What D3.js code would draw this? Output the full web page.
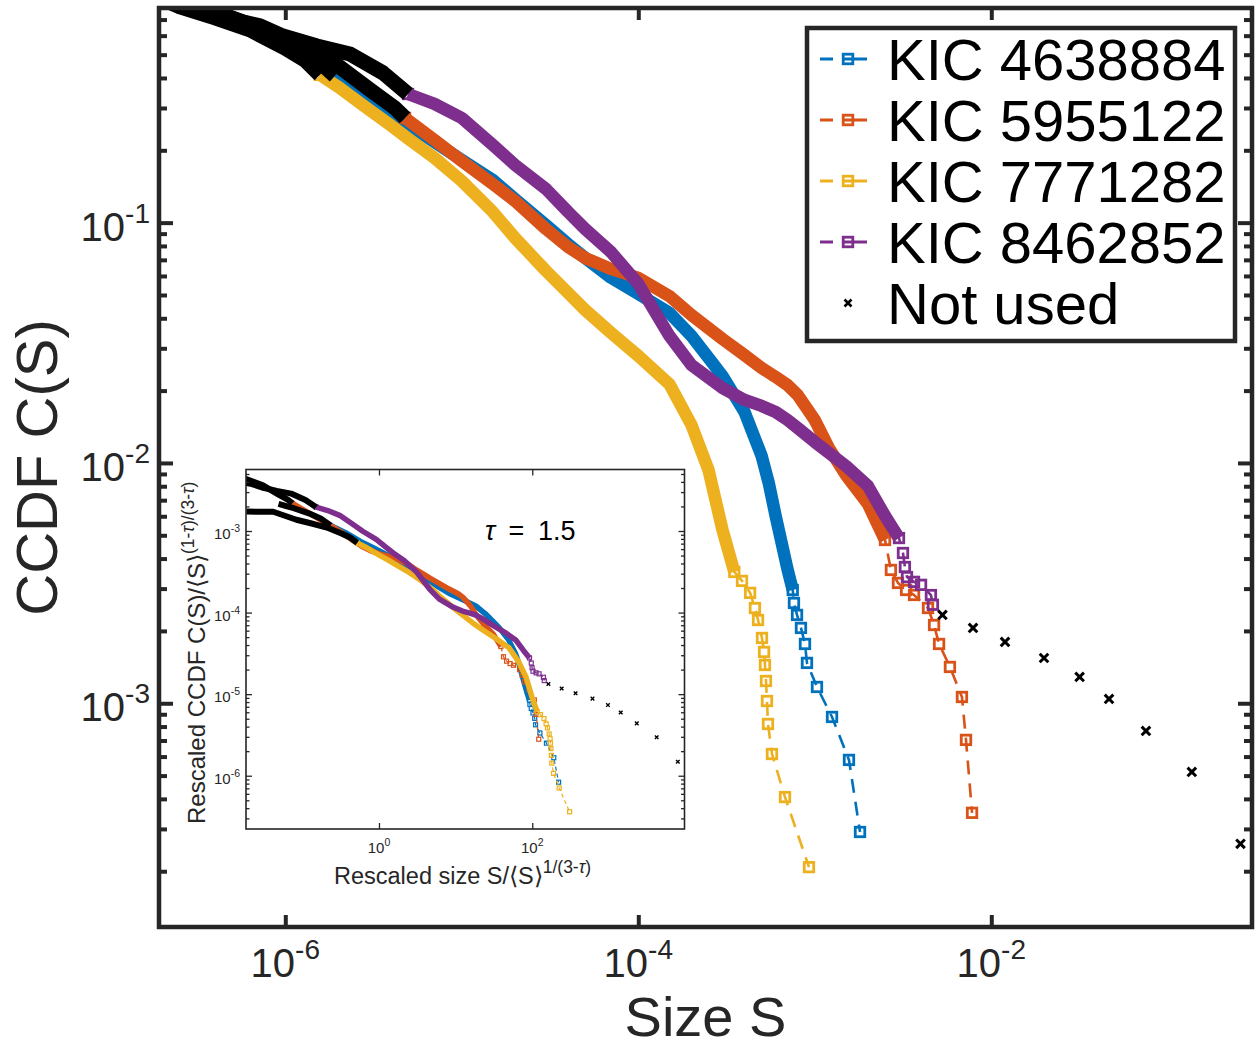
<!DOCTYPE html>
<html>
<head>
<meta charset="utf-8">
<script src="https://cdn.jsdelivr.net/npm/d3@7"></script>
<style>
  html, body { margin: 0; padding: 0; background: #fff; }
  svg { display: block; font-family: "Liberation Sans", Arial, Helvetica, sans-serif; }
</style>
</head>
<body>
<svg id="chart" width="1255" height="1048"></svg>
<script>
// ---------------------------------------------------------------------------
// Flare-size CCDFs of four Kepler stars
// ---------------------------------------------------------------------------
const starNames  = ['KIC 4638884', 'KIC 5955122', 'KIC 7771282', 'KIC 8462852'];
const starColors = ['#0072BD', '#D95319', '#EDB120', '#7E2F8E'];
// mean event size <S> of each star, used for the rescaled collapse
const meanSize = [2.34e-8, 5.13e-7, 5.25e-9, 1.86e-7];
const tau = 1.5;

// KIC 4638884 — fitted range (dense body, then the individual largest events)
const s4638884Body = [1.91e-6, 3e-6, 5e-6, 7e-6, 1e-5, 1.5e-5, 2e-5, 3e-5, 4e-5, 5e-5, 7e-5, 1e-4, 1.5e-4, 2e-4, 2.5e-4, 3e-4, 4e-4, 5e-4, 5.5e-4, 6e-4, 7e-4, 7.5e-4];
const c4638884Body = [0.408, 0.333, 0.2524, 0.2166, 0.1823, 0.1505, 0.1254, 0.0977, 0.0815, 0.0713, 0.0590, 0.0505, 0.0421, 0.0338, 0.02735, 0.0230, 0.0163, 0.01069, 0.00818, 0.00602, 0.00362, 0.00296];
const s4638884Tail = [7.62e-4, 7.93e-4, 8.35e-4, 8.80e-4, 9.03e-4, 1.029e-3, 1.252e-3, 1.562e-3, 1.804e-3];
const c4638884Tail = [2.615e-3, 2.331e-3, 2.058e-3, 1.765e-3, 1.472e-3, 1.169e-3, 8.77e-4, 5.81e-4, 2.913e-4];
// below the fit cutoff (not used)
const s4638884Low = [4.0e-7, 6.31e-7, 9.96e-7, 1.417e-6, 1.91e-6];
const c4638884Low = [0.750, 0.665, 0.576, 0.499, 0.408];

// KIC 5955122
const s5955122Body = [4.77e-6, 7e-6, 1e-5, 1.5e-5, 2e-5, 3e-5, 4e-5, 5e-5, 7e-5, 1e-4, 1.5e-4, 2e-4, 3e-4, 4e-4, 5e-4, 6e-4, 7e-4, 8e-4, 1e-3, 1.2e-3, 1.5e-3, 2e-3, 2.5e-3];
const c5955122Body = [0.2727, 0.2208, 0.1806, 0.1449, 0.1231, 0.0941, 0.0792, 0.0713, 0.0642, 0.0589, 0.0495, 0.0413, 0.0328, 0.0281, 0.02485, 0.0228, 0.0211, 0.01919, 0.0151, 0.01155, 0.00891, 0.00675, 0.00478];
const s5955122Tail = [2.70e-3, 2.96e-3, 3.29e-3, 3.65e-3, 4.38e-3, 4.74e-3, 5.06e-3, 5.83e-3, 6.82e-3, 7.19e-3, 7.78e-3];
const c5955122Tail = [3.587e-3, 3.168e-3, 2.961e-3, 2.823e-3, 2.492e-3, 2.117e-3, 1.765e-3, 1.416e-3, 1.062e-3, 7.04e-4, 3.50e-4];
const s5955122Low = [2.88e-7, 3.75e-7, 5.54e-7, 8.19e-7, 1.211e-6, 1.963e-6, 3.019e-6, 4.18e-6, 4.77e-6];
const c5955122Low = [0.845, 0.7675, 0.691, 0.616, 0.5385, 0.453, 0.357, 0.300, 0.2727];

// KIC 7771282
const s7771282Body = [1.57e-6, 2e-6, 3e-6, 4e-6, 5e-6, 7e-6, 1e-5, 1.5e-5, 2e-5, 3e-5, 4e-5, 5e-5, 7e-5, 1e-4, 1.5e-4, 2e-4, 2.5e-4, 3e-4, 3.5e-4];
const c7771282Body = [0.412, 0.367, 0.294, 0.2526, 0.223, 0.186, 0.149, 0.1108, 0.0864, 0.0630, 0.0510, 0.0433, 0.0348, 0.0279, 0.0213, 0.0144, 0.00935, 0.00526, 0.00352];
const s7771282Tail = [3.87e-4, 4.30e-4, 4.58e-4, 4.77e-4, 5.02e-4, 5.16e-4, 5.22e-4, 5.29e-4, 5.36e-4, 5.43e-4, 5.72e-4, 6.78e-4, 9.27e-4];
const c7771282Tail = [3.23e-3, 2.88e-3, 2.49e-3, 2.22e-3, 1.87e-3, 1.635e-3, 1.443e-3, 1.238e-3, 1.022e-3, 8.20e-4, 6.15e-4, 4.07e-4, 2.08e-4];
const s7771282Low = [5.62e-8, 1.26e-7, 2.53e-7, 4.0e-7, 6.31e-7, 9.96e-7, 1.29e-6, 1.57e-6];
const c7771282Low = [0.995, 0.990, 0.790, 0.711, 0.634, 0.533, 0.475, 0.412];

// KIC 8462852
const s8462852Body = [4.96e-6, 7e-6, 1e-5, 1.5e-5, 2e-5, 3e-5, 4e-5, 5e-5, 7e-5, 1e-4, 1.5e-4, 2e-4, 3e-4, 4e-4, 5e-4, 6e-4, 7e-4, 8e-4, 1e-3, 1.5e-3, 2e-3, 2.5e-3, 3e-3];
const c8462852Body = [0.343, 0.312, 0.2727, 0.2105, 0.1739, 0.1381, 0.1108, 0.0941, 0.0755, 0.0556, 0.0338, 0.02557, 0.0205, 0.01829, 0.01727, 0.0163, 0.0151, 0.01398, 0.01223, 0.00972, 0.00802, 0.00602, 0.00487];
const s8462852Tail = [3.16e-3, 3.24e-3, 3.33e-3, 3.65e-3, 4.00e-3, 4.55e-3, 4.67e-3];
const c8462852Tail = [4.22e-3, 3.69e-3, 3.35e-3, 3.20e-3, 3.11e-3, 2.82e-3, 2.57e-3];
const s8462852Low = [3.29e-7, 4.10e-7, 7.19e-7, 9.70e-7, 1.512e-6, 2.325e-6, 3.577e-6, 4.96e-6];
const c8462852Low = [0.813, 0.725, 0.659, 0.598, 0.5435, 0.5035, 0.420, 0.343];
// largest events above the fit range (not used)
const s8462852High = [5.29e-3, 7.88e-3, 0.01196, 0.01989, 0.03165, 0.04645, 0.0752, 0.1368, 0.2582];
const c8462852High = [2.331e-3, 2.058e-3, 1.799e-3, 1.543e-3, 1.287e-3, 1.042e-3, 7.67e-4, 5.18e-4, 2.60e-4];

// tick labels
const mainXTicks  = [1e-6, 1e-4, 1e-2];
const mainYTicks  = [1e-3, 1e-2, 1e-1];
const insetXTicks = [1, 100];
const insetYTicks = [1e-6, 1e-5, 1e-4, 1e-3];

// ---------------------------------------------------------------------------
const zip = (s, c) => s.map((v, i) => ({ s: v, c: c[i] }));
const stars = [
  { body: zip(s4638884Body, c4638884Body), tail: zip(s4638884Tail, c4638884Tail), low: zip(s4638884Low, c4638884Low), high: [] },
  { body: zip(s5955122Body, c5955122Body), tail: zip(s5955122Tail, c5955122Tail), low: zip(s5955122Low, c5955122Low), high: [] },
  { body: zip(s7771282Body, c7771282Body), tail: zip(s7771282Tail, c7771282Tail), low: zip(s7771282Low, c7771282Low), high: [] },
  { body: zip(s8462852Body, c8462852Body), tail: zip(s8462852Tail, c8462852Tail), low: zip(s8462852Low, c8462852Low), high: zip(s8462852High, c8462852High) }
];
stars.forEach((d, i) => { d.name = starNames[i]; d.color = starColors[i]; d.mean = meanSize[i]; });

const ink = '#262626';
const svg = d3.select('#chart');
svg.append('rect').attr('width', 1255).attr('height', 1048).attr('fill', '#fff');

// ---------------------------------------------------------------------------
// helpers
function ticks(g, scale, orient, values, size, pos, width) {
  const gen = { bottom: d3.axisBottom, top: d3.axisTop, left: d3.axisLeft, right: d3.axisRight }[orient];
  const axis = gen(scale).tickValues(values).tickSize(-size).tickSizeOuter(0).tickFormat(() => '');
  const horiz = orient === 'bottom' || orient === 'top';
  const a = g.append('g')
    .attr('transform', horiz ? `translate(0,${pos})` : `translate(${pos},0)`)
    .call(axis);
  a.select('.domain').remove();
  a.selectAll('text').remove();
  a.selectAll('line').attr('stroke', ink).attr('stroke-width', width);
}

function powLabel(g, x, y, v, size, anchor) {
  const e = Math.round(Math.log10(v));
  const t = g.append('text').attr('x', x).attr('y', y)
    .attr('text-anchor', anchor).attr('font-size', size).attr('fill', ink);
  t.append('tspan').text('10');
  t.append('tspan').attr('dy', -0.45 * size).attr('font-size', 0.7 * size).text(String(e));
}

function squareMarks(g, pts, xs, ys, side, color, sw) {
  g.selectAll(null).data(pts).enter().append('rect')
    .attr('x', d => xs(d.s) - side / 2).attr('y', d => ys(d.c) - side / 2)
    .attr('width', side).attr('height', side)
    .attr('fill', 'none').attr('stroke', color).attr('stroke-width', sw);
}

function crossMarks(g, pts, xs, ys, half, sw) {
  g.selectAll(null).data(pts).enter().append('path')
    .attr('d', d => {
      const cx = xs(d.s), cy = ys(d.c);
      return `M${cx - half},${cy - half}L${cx + half},${cy + half}M${cx - half},${cy + half}L${cx + half},${cy - half}`;
    })
    .attr('stroke', '#000').attr('stroke-width', sw).attr('fill', 'none');
}

// draw all series into a panel with the given scales and mark sizes
function drawSeries(g, xs, ys, st, map) {
  const line = d3.line().x(d => xs(d.s)).y(d => ys(d.c));
  stars.forEach(d => {
    const body = d.body.map(map(d)), tail = d.tail.map(map(d));
    // densely packed events, drawn as a solid trace
    g.append('path').attr('d', line(body)).attr('fill', 'none')
      .attr('stroke', d.color).attr('stroke-width', st.band)
      .attr('stroke-linejoin', 'round').attr('stroke-linecap', 'butt');
    g.append('path').attr('d', line(body.concat(tail))).attr('fill', 'none')
      .attr('stroke', d.color).attr('stroke-width', st.lw)
      .attr('stroke-dasharray', st.dash);
    squareMarks(g, [body[0], body[body.length - 1]].concat(tail), xs, ys, st.sq, d.color, st.sqw);
  });
  stars.forEach(d => {
    const low = d.low.map(map(d));
    g.append('path').attr('d', line(low)).attr('fill', 'none')
      .attr('stroke', '#000').attr('stroke-width', st.black)
      .attr('stroke-linejoin', 'round').attr('stroke-linecap', 'butt');
    crossMarks(g, d.high.map(map(d)), xs, ys, st.xh, st.xw);
  });
}

// ---------------------------------------------------------------------------
// main panel
const M = { l: 159, r: 1252, t: 8, b: 927 };
const x = d3.scaleLog().domain([1.925e-7, 0.3]).range([M.l, M.r]);
const y = d3.scaleLog().domain([1.172e-4, 0.782]).range([M.b, M.t]);

svg.append('clipPath').attr('id', 'clipMain').append('rect')
  .attr('x', M.l).attr('y', M.t).attr('width', M.r - M.l).attr('height', M.b - M.t);

const gMain = svg.append('g').attr('clip-path', 'url(#clipMain)');
drawSeries(gMain, x, y,
  { band: 12.5, lw: 2.6, dash: '14,9', sq: 9.5, sqw: 2.8, black: 15, xh: 4.3, xw: 3 },
  () => p => p);

const yMinor = y.ticks().filter(v => Math.abs(Math.log10(v) - Math.round(Math.log10(v))) > 1e-6);
const gAx = svg.append('g');
ticks(gAx, x, 'bottom', mainXTicks, 12, M.b, 4);
ticks(gAx, x, 'top', mainXTicks, 12, M.t, 4);
ticks(gAx, y, 'left', mainYTicks, 14, M.l, 4);
ticks(gAx, y, 'left', yMinor, 8, M.l, 4);
ticks(gAx, y, 'right', mainYTicks, 14, M.r, 4);
ticks(gAx, y, 'right', yMinor, 8, M.r, 4);
gAx.append('rect').attr('x', M.l).attr('y', M.t).attr('width', M.r - M.l).attr('height', M.b - M.t)
  .attr('fill', 'none').attr('stroke', ink).attr('stroke-width', 4.5);

mainXTicks.forEach(v => powLabel(gAx, x(v), 977, v, 40, 'middle'));
mainYTicks.forEach(v => powLabel(gAx, 150, y(v) + 18, v, 40, 'end'));

gAx.append('text').attr('x', (M.l + M.r) / 2).attr('y', 1036).attr('text-anchor', 'middle')
  .attr('font-size', 56).attr('fill', ink).text('Size S');
gAx.append('text').attr('transform', `translate(57,${(M.t + M.b) / 2}) rotate(-90)`)
  .attr('text-anchor', 'middle').attr('font-size', 58).attr('fill', ink).text('CCDF C(S)');

// ---------------------------------------------------------------------------
// legend
const L = { x: 807, y: 28, w: 428, h: 313 };
const gLeg = svg.append('g');
gLeg.append('rect').attr('x', L.x).attr('y', L.y).attr('width', L.w).attr('height', L.h)
  .attr('fill', '#fff').attr('stroke', ink).attr('stroke-width', 4.5);
const rowY = i => 59 + i * 61;
stars.forEach((d, i) => {
  const cy = rowY(i);
  gLeg.append('line').attr('x1', 820).attr('x2', 867).attr('y1', cy).attr('y2', cy)
    .attr('stroke', d.color).attr('stroke-width', 2.8).attr('stroke-dasharray', '13,9,25');
  gLeg.append('rect').attr('x', 848 - 4.8).attr('y', cy - 4.8).attr('width', 9.6).attr('height', 9.6)
    .attr('fill', 'none').attr('stroke', d.color).attr('stroke-width', 2.8);
  gLeg.append('text').attr('x', 887).attr('y', cy + 21).attr('font-size', 58).attr('fill', '#000').text(d.name);
});
crossMarks(gLeg, [{ s: 848, c: rowY(4) }], v => v, v => v, 3.5, 2.6);
gLeg.append('text').attr('x', 887).attr('y', rowY(4) + 21).attr('font-size', 58).attr('fill', '#000').text('Not used');

// ---------------------------------------------------------------------------
// inset: rescaled collapse  S/<S>^{1/(3-tau)},  C(S)/<S>^{(1-tau)/(3-tau)}
const I = { l: 246, r: 684.5, t: 469.5, b: 829 };
const xi = d3.scaleLog().domain([0.01841, 9683]).range([I.l, I.r]);
const yi = d3.scaleLog().domain([2.223e-7, 5.675e-3]).range([I.b, I.t]);
const rescale = d => {
  const sf = Math.pow(d.mean, 1 / (3 - tau));
  const cf = Math.pow(d.mean, (1 - tau) / (3 - tau));
  return p => ({ s: p.s / sf, c: p.c / cf });
};

svg.append('rect').attr('x', I.l).attr('y', I.t).attr('width', I.r - I.l).attr('height', I.b - I.t)
  .attr('fill', '#fff');
svg.append('clipPath').attr('id', 'clipInset').append('rect')
  .attr('x', I.l).attr('y', I.t).attr('width', I.r - I.l).attr('height', I.b - I.t);
const gIn = svg.append('g').attr('clip-path', 'url(#clipInset)');
drawSeries(gIn, xi, yi,
  { band: 5.5, lw: 1.2, dash: '4,3', sq: 4, sqw: 1.2, black: 6, xh: 1.8, xw: 1.4 },
  rescale);

const yiMinor = yi.ticks().filter(v => Math.abs(Math.log10(v) - Math.round(Math.log10(v))) > 1e-6);
const gIa = svg.append('g');
ticks(gIa, xi, 'bottom', insetXTicks, 6, I.b, 1.3);
ticks(gIa, xi, 'top', insetXTicks, 6, I.t, 1.3);
ticks(gIa, yi, 'left', insetYTicks, 6, I.l, 1.3);
ticks(gIa, yi, 'left', yiMinor, 3.5, I.l, 1.3);
ticks(gIa, yi, 'right', insetYTicks, 6, I.r, 1.3);
ticks(gIa, yi, 'right', yiMinor, 3.5, I.r, 1.3);
gIa.append('rect').attr('x', I.l).attr('y', I.t).attr('width', I.r - I.l).attr('height', I.b - I.t)
  .attr('fill', 'none').attr('stroke', ink).attr('stroke-width', 1.6);

insetXTicks.forEach(v => powLabel(gIa, xi(v), 853, v, 15, 'middle'));
insetYTicks.forEach(v => powLabel(gIa, 240, yi(v) + 8, v, 15, 'end'));

// inset axis titles
const supSize = 17.5;
const xt = gIa.append('text').attr('x', 334).attr('y', 884).attr('font-size', 23.5).attr('fill', ink);
xt.append('tspan').text('Rescaled size S/\u27E8S\u27E9');
xt.append('tspan').attr('dy', -11).attr('font-size', supSize).text('1/(3-');
xt.append('tspan').attr('font-size', supSize).attr('font-style', 'italic').text('\u03C4');
xt.append('tspan').attr('font-size', supSize).text(')');

const yt = gIa.append('text').attr('transform', 'translate(205,824) rotate(-90)')
  .attr('font-size', 24).attr('fill', ink);
yt.append('tspan').text('Rescaled CCDF C(S)/\u27E8S\u27E9');
yt.append('tspan').attr('dy', -11).attr('font-size', supSize).text('(1-');
yt.append('tspan').attr('font-size', supSize).attr('font-style', 'italic').text('\u03C4');
yt.append('tspan').attr('font-size', supSize).text(')/(3-');
yt.append('tspan').attr('font-size', supSize).attr('font-style', 'italic').text('\u03C4');
yt.append('tspan').attr('font-size', supSize).text(')');

const tt = gIa.append('text').attr('x', 485).attr('y', 540).attr('font-size', 27).attr('fill', '#000');
tt.append('tspan').attr('font-style', 'italic').text('\u03C4');
tt.append('tspan').text('\u2002=\u2002' + tau);
</script>
</body>
</html>
